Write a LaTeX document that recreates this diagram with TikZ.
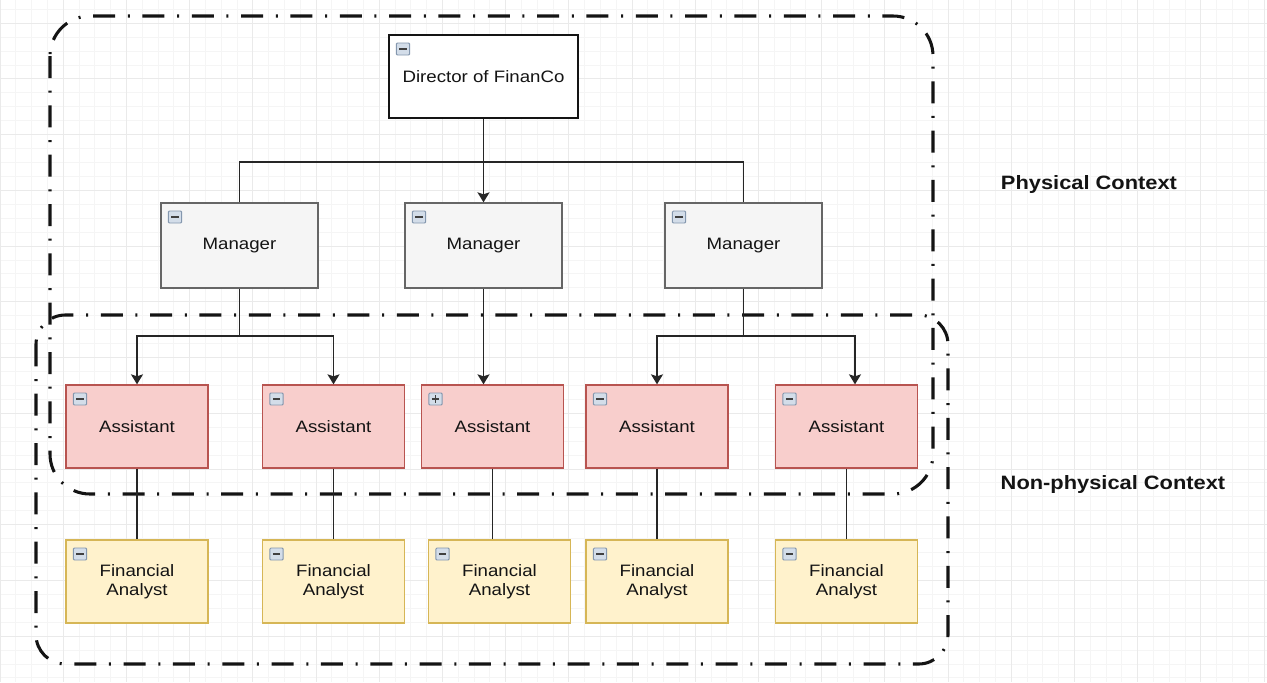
\documentclass[tikz,border=0pt]{standalone}
\usepackage{fontspec}
\setmainfont{Liberation Sans}[FakeStretch=1.13]
\usepackage{xcolor}
\definecolor{mgrfill}{HTML}{F5F5F5}
\definecolor{mgredge}{HTML}{666666}
\definecolor{astfill}{HTML}{F8CECC}
\definecolor{astedge}{HTML}{B85450}
\definecolor{anafill}{HTML}{FFF2CC}
\definecolor{anaedge}{HTML}{D6B656}
\definecolor{iconfill}{HTML}{D3DDE9}
\definecolor{iconedge}{HTML}{8497AE}
\definecolor{gridminor}{HTML}{F5F5F5}
\definecolor{gridmajor}{HTML}{EAEAEA}
\definecolor{inkdark}{HTML}{141414}
\usetikzlibrary{arrows.meta,positioning,calc}

\begin{document}
\begin{tikzpicture}[
  x=0.75pt, y=-0.75pt,
  font=\fontsize{12.4}{14.5}\selectfont,
  collapse/.style={path picture={
    \draw[iconedge, fill=iconfill, line width=0.7pt, rounded corners=0.8pt]
      ([shift={(5.5pt,-6pt)}]path picture bounding box.north west) rectangle ++(10pt,-9pt);
    \draw[black!75, line width=0.8pt]
      ([shift={(7.75pt,-10.5pt)}]path picture bounding box.north west) -- ++(5.5pt,0pt);
  }},
  expand/.style={path picture={
    \draw[iconedge, fill=iconfill, line width=0.7pt, rounded corners=0.8pt]
      ([shift={(5.5pt,-6pt)}]path picture bounding box.north west) rectangle ++(10pt,-9pt);
    \draw[black!75, line width=0.8pt]
      ([shift={(7.75pt,-10.5pt)}]path picture bounding box.north west) -- ++(5.5pt,0pt);
    \draw[black!75, line width=0.8pt]
      ([shift={(10.5pt,-7.75pt)}]path picture bounding box.north west) -- ++(0pt,-5.5pt);
  }},
  director/.style={rectangle, draw=inkdark, line width=1pt, fill=white,
                   minimum width=141.75pt, minimum height=62.25pt, align=center, text=inkdark},
  manager/.style={rectangle, draw=mgredge, line width=1pt, fill=mgrfill,
                  minimum width=117.75pt, minimum height=63.75pt, align=center, text=inkdark},
  assistant/.style={rectangle, draw=astedge, line width=1pt, fill=astfill,
                    minimum width=106.5pt, minimum height=62.25pt, align=center, text=inkdark},
  analyst/.style={rectangle, draw=anaedge, line width=1pt, fill=anafill,
                  minimum width=106.5pt, minimum height=62.25pt, align=center, text=inkdark},
  link/.style={line width=1.3pt, black!85},
  arr/.style={-{Stealth[length=7.5pt, width=9pt, inset=1.5pt]}, line width=1.3pt, black!85},
  ctx/.style={line width=2.3pt, inkdark, line cap=butt,
              dash pattern=on 16.5pt off 9.5pt on 1.5pt off 9.5pt},
  ctxlbl/.style={font=\fontsize{14.5}{17}\selectfont\bfseries, text=inkdark},
]
% ---------- page and background grid
\useasboundingbox (0,0) rectangle (1267,682);
\fill[white] (0,0) rectangle (1267,682);
\foreach \i in {0,...,80}
  \draw[gridminor, line width=0.7pt] (\i*15.8,0) -- (\i*15.8,682);
\foreach \i in {0,...,49}
  \draw[gridminor, line width=0.7pt] (0,9.27+\i*13.93) -- (1267,9.27+\i*13.93);
\foreach \i in {0,...,20}
  \draw[gridmajor, line width=0.7pt] (\i*63.2,0) -- (\i*63.2,682);
\foreach \i in {0,...,12}
  \draw[gridmajor, line width=0.7pt] (0,23.2+\i*55.72) -- (1267,23.2+\i*55.72);

% ---------- the two contexts
\draw[ctx, rounded corners=30pt] (50,16) rectangle (933,494);
\draw[ctx, rounded corners=22pt] (36,315) rectangle (948,664);
\node[ctxlbl] (physlbl) at (1089,184) {Physical Context};
\node[ctxlbl] (nonphyslbl) at (1113,484) {Non-physical Context};

% ---------- director and managers
\node[director, collapse] (dir) at (483.5,76.5) {Director of FinanCo};
\node[manager, collapse] (m1) at (239.5,245.5) {Manager};
\node[manager, collapse] (m2) at (483.5,245.5) {Manager};
\node[manager, collapse] (m3) at (743.5,245.5) {Manager};

% ---------- assistants
\node[assistant, collapse] (a1) at (137,426.5)   {Assistant};
\node[assistant, collapse] (a2) at (333.5,426.5) {Assistant};
\node[assistant, expand]   (a3) at (492.5,426.5) {Assistant};
\node[assistant, collapse] (a4) at (657,426.5)   {Assistant};
\node[assistant, collapse] (a5) at (846.5,426.5) {Assistant};

% ---------- financial analysts
\node[analyst, collapse] (f1) at (137,581.5)   {Financial\\Analyst};
\node[analyst, collapse] (f2) at (333.5,581.5) {Financial\\Analyst};
\node[analyst, collapse] (f3) at (499.5,581.5) {Financial\\Analyst};
\node[analyst, collapse] (f4) at (657,581.5)   {Financial\\Analyst};
\node[analyst, collapse] (f5) at (846.5,581.5) {Financial\\Analyst};

% ---------- director to managers
\coordinate (bus0) at ($(dir.south)+(0,43)$);
\draw[link] (dir.south) -- (bus0);
\draw[link] (m1.north) |- (bus0) -| (m3.north);
\draw[arr] (bus0) -- (m2.north);

% ---------- managers to assistants
\coordinate (bus1) at ($(m1.south)+(0,47)$);
\coordinate (bus3) at ($(m3.south)+(0,47)$);
\draw[link] (m1.south) -- (bus1);
\draw[arr] (bus1) -| (a1.north);
\draw[arr] (bus1) -| (a2.north);
\draw[arr] (m2.south) -- (m2.south |- a3.north);
\draw[link] (m3.south) -- (bus3);
\draw[arr] (bus3) -| (a4.north);
\draw[arr] (bus3) -| ($(a5.north)+(8.5,0)$);

% ---------- assistants to analysts
\foreach \i in {1,...,5}
  \draw[link] (a\i.south) -- (a\i.south |- f\i.north);
\end{tikzpicture}
\end{document}
